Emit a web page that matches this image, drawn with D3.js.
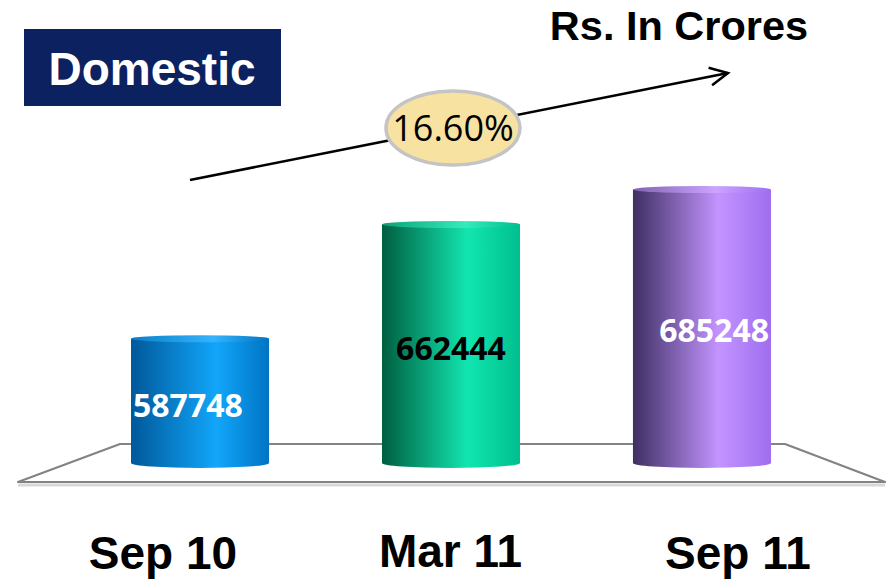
<!DOCTYPE html>
<html>
<head>
<meta charset="utf-8">
<script src="https://cdn.jsdelivr.net/npm/d3@7"></script>
<style>
  html, body { margin: 0; padding: 0; background: #fff; }
  svg { display: block; }
</style>
</head>
<body>
<div class="chart"></div>
<script>
// values (Rs. in crores)
const categories = ["Sep 10", "Mar 11", "Sep 11"]
const values = [587748, 662444, 685248]
const valueLabels = ["587748", "662444", "685248"]
const growthLabel = "16.60%"

// cylinder shading: [dark left, bright, right edge]
const barColors = [
    ["#00589a", "#12a6fa", "#0074c4"],
    ["#005e40", "#12e6b0", "#00bf8e"],
    ["#3e2f62", "#c394ff", "#9f6ef0"]
]
const labelColors = ["#ffffff", "#000000", "#ffffff"]

const width = 888, height = 582

const svg = d3.select(".chart")
    .append("svg")
    .attr("width", width)
    .attr("height", height)

const defs = svg.append("defs")

const x = d3.scaleBand()
    .domain(categories)
    .range([62, 840])
    .paddingInner(0.45)
    .paddingOuter(0.275)

const y = d3.scaleLinear()
    .domain([506500, 700000])
    .range([463, 167])

// category labels sit a bit wider than the cylinders
const xLabel = d3.scalePoint()
    .domain(categories)
    .range([163, 738])

const base = y.range()[0]
const rTop = 3.5, rBottom = 5

// floor
const floor = svg.append("g").attr("class", "floor")
const floorPts = [[18, 482], [120, 444], [785, 444], [885, 482]]

floor.append("path")
    .attr("d", "M18,485 L885,485")
    .attr("stroke", "#d8d8d8")
    .attr("stroke-width", 3)

floor.append("path")
    .attr("d", d3.line()(floorPts) + "Z")
    .attr("fill", "#fff")
    .attr("stroke", "#838383")
    .attr("stroke-width", 2.2)
    .attr("stroke-linejoin", "round")

// gradients
barColors.forEach((c, i) => {
    const g = defs.append("linearGradient")
        .attr("id", "cyl" + i)
        .attr("x1", "0%").attr("x2", "100%")
        .attr("y1", "0%").attr("y2", "0%")
    g.append("stop").attr("offset", "0%").style("stop-color", c[0])
    g.append("stop").attr("offset", "62%").style("stop-color", c[1])
    g.append("stop").attr("offset", "100%").style("stop-color", c[2])

    const t = defs.append("linearGradient")
        .attr("id", "top" + i)
        .attr("x1", "0%").attr("x2", "100%")
    t.append("stop").attr("offset", "0%").style("stop-color", d3.interpolateRgb(c[0], c[1])(0.5))
    t.append("stop").attr("offset", "60%").style("stop-color", d3.interpolateRgb(c[1], "#fff")(0.15))
    t.append("stop").attr("offset", "100%").style("stop-color", c[2])
})

const bars = svg.selectAll(".bar")
    .data(values)
    .enter().append("g")
    .attr("class", "bar")

bars.append("ellipse")
    .attr("cx", (d, i) => x(categories[i]) + x.bandwidth() / 2)
    .attr("cy", base)
    .attr("rx", x.bandwidth() / 2)
    .attr("ry", rBottom)
    .style("fill", (d, i) => `url(#cyl${i})`)

bars.append("rect")
    .attr("x", (d, i) => x(categories[i]))
    .attr("y", d => y(d))
    .attr("width", x.bandwidth())
    .attr("height", d => base - y(d))
    .style("fill", (d, i) => `url(#cyl${i})`)

bars.append("ellipse")
    .attr("cx", (d, i) => x(categories[i]) + x.bandwidth() / 2)
    .attr("cy", d => y(d))
    .attr("rx", x.bandwidth() / 2)
    .attr("ry", rTop)
    .style("fill", (d, i) => `url(#top${i})`)

// value labels
const anchors = ["start", "middle", "end"]
bars.append("text")
    .attr("x", (d, i) => {
        const x0 = x(categories[i])
        if (i === 0) return x0 + 2
        if (i === 2) return x0 + x.bandwidth() - 2
        return x0 + x.bandwidth() / 2
    })
    .attr("y", d => (y(d) + base) / 2 + 16)
    .attr("text-anchor", (d, i) => anchors[i])
    .style("font-family", "'Open Sans', sans-serif")
    .style("font-weight", "bold")
    .style("font-size", "32px")
    .style("fill", (d, i) => labelColors[i])
    .text((d, i) => valueLabels[i])

// category labels
svg.selectAll(".cat")
    .data(categories)
    .enter().append("text")
    .attr("class", "cat")
    .attr("x", d => xLabel(d))
    .attr("y", (d, i) => i === 1 ? 567 : 569)
    .attr("text-anchor", "middle")
    .style("font-family", "'Liberation Sans', Arial, sans-serif")
    .style("font-weight", "bold")
    .style("font-size", "46px")
    .style("fill", "#000")
    .text(d => d)

// title box
svg.append("rect")
    .attr("x", 24).attr("y", 29)
    .attr("width", 257).attr("height", 77)
    .style("fill", "#0b2160")

svg.append("text")
    .attr("x", 152).attr("y", 85)
    .attr("text-anchor", "middle")
    .style("font-family", "'Liberation Sans', Arial, sans-serif")
    .style("font-weight", "bold")
    .style("font-size", "46px")
    .style("fill", "#fff")
    .text("Domestic")

svg.append("text")
    .attr("x", 679).attr("y", 40)
    .attr("text-anchor", "middle")
    .style("font-family", "'Liberation Sans', Arial, sans-serif")
    .style("font-weight", "bold")
    .style("font-size", "41.5px")
    .style("fill", "#000")
    .text("Rs. In Crores")

// growth arrow
const a0 = [190, 180], a1 = [728, 73]
svg.append("line")
    .attr("x1", a0[0]).attr("y1", a0[1])
    .attr("x2", a1[0]).attr("y2", a1[1])
    .attr("stroke", "#000")
    .attr("stroke-width", 2.5)

const ang = Math.atan2(a1[1] - a0[1], a1[0] - a0[0]) * 180 / Math.PI
svg.append("path")
    .attr("d", "M-18,-9 L0,0 L-18,9")
    .attr("transform", `translate(${a1[0]},${a1[1]}) rotate(${ang})`)
    .attr("fill", "none")
    .attr("stroke", "#000")
    .attr("stroke-width", 2.5)
    .attr("stroke-linejoin", "miter")

svg.append("ellipse")
    .attr("cx", 453).attr("cy", 128)
    .attr("rx", 67).attr("ry", 37)
    .style("fill", "#f8e2a2")
    .attr("stroke", "#c4c4c4")
    .attr("stroke-width", 3.5)

svg.append("text")
    .attr("x", 453).attr("y", 141)
    .attr("text-anchor", "middle")
    .style("font-family", "'Open Sans', sans-serif")
    .style("font-size", "36px")
    .style("fill", "#000")
    .text(growthLabel)
</script>
</body>
</html>
